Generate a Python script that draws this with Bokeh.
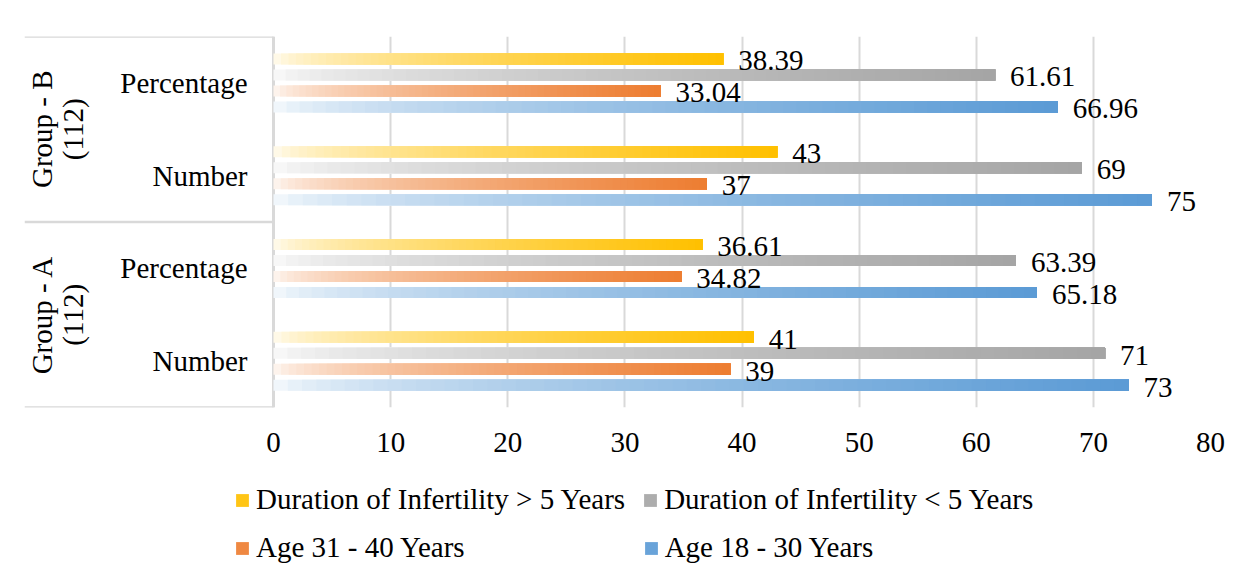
import math
from bokeh.plotting import figure
from bokeh.layouts import column
from bokeh.models import ColumnDataSource, FixedTicker, Legend, LegendItem, Range1d
from bokeh.core.properties import value
from bokeh.embed import file_html
from bokeh.resources import INLINE

# ---- data (categories listed bottom -> top) ----
group_labels = ["Group - A\n(112)", "Group - B\n(112)"]
measure_labels = ["Number", "Percentage", "Number", "Percentage"]
series_names = ["Age 18 - 30 Years", "Age 31 - 40 Years",
                "Duration of Infertility < 5 Years", "Duration of Infertility > 5 Years"]
age_18_30 = [73, 65.18, 75, 66.96]
age_31_40 = [39, 34.82, 37, 33.04]
dur_lt_5 = [71, 63.39, 69, 61.61]
dur_gt_5 = [41, 36.61, 43, 38.39]
series_values = [age_18_30, age_31_40, dur_lt_5, dur_gt_5]
series_colors = ["#5B9BD5", "#ED7D31", "#A5A5A5", "#FFC000"]
x_ticks = [0, 10, 20, 30, 40, 50, 60, 70, 80]

FONT = "Liberation Serif"
FS = "29px"
W = 1240
H_MAIN, H_LEG = 465, 102
FRAME_L, FRAME_R, FRAME_T, FRAME_B = 24, 1210, 36, 407
ZERO_PX = 273
px_per_unit = (FRAME_R - ZERO_PX) / 80.0
x_start = -(ZERO_PX - FRAME_L) / px_per_unit
cat_px = (FRAME_B - FRAME_T) / 4.0
pitch = 16 / cat_px
bar_h = 11 / cat_px
N = 60


def hex2rgb(h):
    return tuple(int(h[i:i + 2], 16) for i in (1, 3, 5))


def mix(h, f):
    r, g, b = hex2rgb(h)
    return "#%02x%02x%02x" % tuple(int(round(255 + (c - 255) * f)) for c in (r, g, b))


p = figure(width=W, height=H_MAIN, x_range=(x_start, 80), y_range=(0, 4),
           output_backend="svg", toolbar_location=None,
           min_border_left=FRAME_L, min_border_right=W - FRAME_R,
           min_border_top=FRAME_T, min_border_bottom=H_MAIN - FRAME_B)
p.outline_line_color = None
p.yaxis.visible = False
p.ygrid.visible = False
p.xgrid.ticker = FixedTicker(ticks=x_ticks)
p.xgrid.grid_line_color = "#d9d9d9"
p.xgrid.grid_line_width = 2
p.xaxis.ticker = FixedTicker(ticks=x_ticks)
p.xaxis.axis_line_color = None
p.xaxis.major_tick_line_color = None
p.xaxis.minor_tick_line_color = None
p.xaxis.major_tick_out = 0
p.xaxis.major_tick_in = 0
p.xaxis.major_label_standoff = 25
p.xaxis.major_label_text_font = FONT
p.xaxis.major_label_text_font_size = FS
p.xaxis.major_label_text_color = "black"

# table lines of the category axis
p.segment(x0=[x_start] * 3, x1=[0] * 3, y0=[0, 2, 4], y1=[0, 2, 4],
          line_color="#d9d9d9", line_width=2.5)
p.segment(x0=[0], x1=[0], y0=[0], y1=[4], line_color="#d9d9d9", line_width=3)

sources = []
for s, (vals, col) in enumerate(zip(series_values, series_colors)):
    off = (s - 1.5) * pitch
    ys = [i + 0.5 + off for i in range(len(vals))]
    yy, lefts, rights, cols = [], [], [], []
    for i, v in enumerate(vals):
        # gradient: stacked layers, each starting further right and reaching the bar end
        for k in range(N):
            t = (k + 0.5) / N
            yy.append(ys[i])
            lefts.append(v * k / N)
            rights.append(v)
            cols.append(mix(col, 0.04 + 0.96 * t ** 0.6))
    src = ColumnDataSource(dict(y=yy, left=lefts, right=rights, c=cols))
    sources.append(src)
    p.hbar(y="y", left="left", right="right", height=bar_h, fill_color="c",
           line_color=None, source=src)
    lab = ColumnDataSource(dict(x=vals, y=ys, t=[f"{v:g}" for v in vals]))
    p.text(x="x", y="y", text="t", source=lab, x_offset=15, y_offset=2,
           text_align="left", text_baseline="middle",
           text_font=value(FONT), text_font_size=FS, text_color="black")

# category labels
p.text(x=[0] * 4, y=[0.5, 1.5, 2.5, 3.5], text=measure_labels, x_offset=-26,
       text_align="right", text_baseline="middle",
       text_font=value(FONT), text_font_size=FS, text_color="black")
p.text(x=[x_start] * 2, y=[1, 3], text=group_labels, x_offset=33, angle=math.pi / 2,
       text_align="center", text_baseline="middle", text_line_height=0.95,
       text_font=value(FONT), text_font_size=FS, text_color="black")

# ---- legend strip (same series sources, bars out of view) ----
pl = figure(width=W, height=H_LEG, x_range=p.x_range, y_range=Range1d(100, 101),
            output_backend="svg", toolbar_location=None,
            x_axis_location=None, y_axis_location=None,
            min_border_left=0, min_border_right=0, min_border_top=0, min_border_bottom=0)
pl.outline_line_color = None
pl.grid.visible = False
leg_r = []
for src in sources:
    leg_r.append(pl.hbar(y="y", left="left", right="right", height=bar_h, fill_color="c",
                         line_color=None, source=src))

idx = int(0.85 * N)
common = dict(orientation="horizontal", padding=0, margin=0,
              border_line_color=None, background_fill_alpha=0,
              glyph_width=16, glyph_height=16, label_standoff=6, label_height=32,
              label_text_font=FONT, label_text_font_size=FS,
              label_text_color="black")
leg1 = Legend(items=[LegendItem(label=series_names[3], renderers=[leg_r[3]], index=idx),
                     LegendItem(label=series_names[2], renderers=[leg_r[2]], index=idx)],
              location=(210, 51), spacing=17, **common)
leg2 = Legend(items=[LegendItem(label=series_names[1], renderers=[leg_r[1]], index=idx),
                     LegendItem(label=series_names[0], renderers=[leg_r[0]], index=idx)],
              location=(210, 3), spacing=178, **common)
pl.add_layout(leg1)
pl.add_layout(leg2)

open("out.html", "w").write(file_html(column(p, pl), INLINE))
